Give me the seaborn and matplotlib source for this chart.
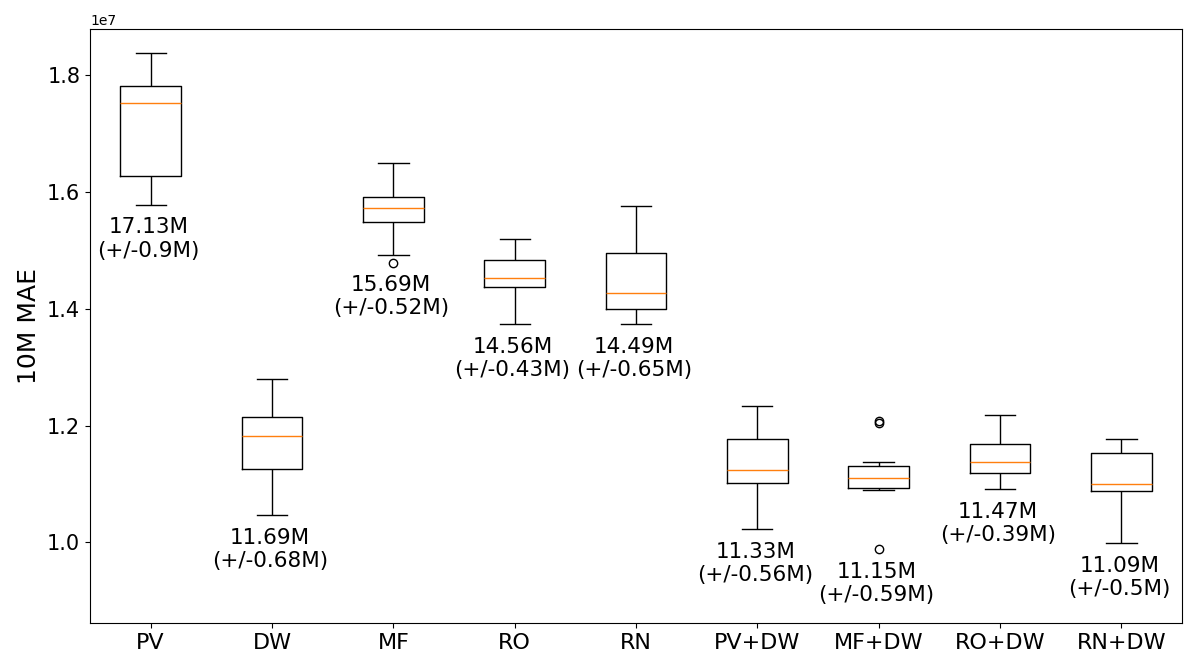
import numpy as np
import pandas as pd
import matplotlib
matplotlib.use('Agg')
import matplotlib.pyplot as plt
import seaborn as sns

# Modelos avaliados
models = ['PV', 'DW', 'MF', 'RO', 'RN', 'PV+DW', 'MF+DW', 'RO+DW', 'RN+DW']

# Resumo das caixas (unidade 1e7)
whis_lo = [1.5779, 1.0463, 1.4917, 1.3740, 1.3740, 1.0228, 1.0896, 1.0908, 0.9983]
q1 = [1.6281, 1.1256, 1.5487, 1.4374, 1.3992, 1.1011, 1.0925, 1.1187, 1.0874]
median = [1.7521, 1.1816, 1.5722, 1.4528, 1.4266, 1.1234, 1.1096, 1.1371, 1.0994]
q3 = [1.7823, 1.2152, 1.5921, 1.4831, 1.4951, 1.1765, 1.1312, 1.1684, 1.1525]
whis_hi = [1.8383, 1.2793, 1.6493, 1.5191, 1.5756, 1.2335, 1.1376, 1.2181, 1.1765]
fliers_low = [[], [], [1.4790], [], [], [], [0.9885], [], []]
fliers_high = [[], [], [], [], [], [], [1.2039, 1.2083], [], []]

# Média e desvio padrão (em milhões)
means = [17.13, 11.69, 15.69, 14.56, 14.49, 11.33, 11.15, 11.47, 11.09]
stds = [0.9, 0.68, 0.52, 0.43, 0.65, 0.56, 0.59, 0.39, 0.5]


def box_points(lo, a, m, b, hi, low_fl, high_fl):
    """
    Monta um conjunto de pontos cujos quartis e bigodes batem com o resumo.
    """
    k = max(len(low_fl), len(high_fl)) + 1
    lows = sorted(low_fl) + [lo] * (k - len(low_fl))
    highs = [hi] * (k - len(high_fl)) + sorted(high_fl)
    return lows + [a] * k + [m] + [b] * k + highs


rows = []
for i, name in enumerate(models):
    pts = box_points(whis_lo[i], q1[i], median[i], q3[i], whis_hi[i],
                     fliers_low[i], fliers_high[i])
    for v in pts:
        rows.append({'model': name, 'mae': v * 1e7})
df = pd.DataFrame(rows)

fig, ax = plt.subplots(figsize=(12, 6.66), dpi=100)

sns.boxplot(data=df, x='model', y='mae', order=models, ax=ax,
            width=0.5, fill=False, color='black', linewidth=1,
            medianprops={'color': '#ff7f0e'},
            flierprops={'marker': 'o', 'markersize': 6,
                        'markerfacecolor': 'none',
                        'markeredgecolor': 'black',
                        'markeredgewidth': 1})

# Rótulos com média e desvio abaixo de cada caixa
for i in range(len(models)):
    lowest = min([whis_lo[i]] + fliers_low[i]) * 1e7
    ax.annotate(f'{means[i]:g}M\n(+/-{stds[i]:g}M)', xy=(i, lowest),
                xytext=(-1.5, -9), textcoords='offset points',
                ha='center', va='top', fontsize=15.5)

ax.set_xlim(-0.5, len(models) - 0.5)
ax.set_ylim(0.8612e7, 1.8794e7)
ax.set_yticks(np.arange(1.0, 1.81, 0.2) * 1e7)
ax.set_xlabel('')
ax.set_ylabel('10M MAE', fontsize=18)
ax.tick_params(axis='x', labelsize=16)
ax.tick_params(axis='y', labelsize=15)

plt.subplots_adjust(left=0.075, right=0.985, top=0.9565, bottom=0.064)
plt.savefig('out.png', dpi=100)
